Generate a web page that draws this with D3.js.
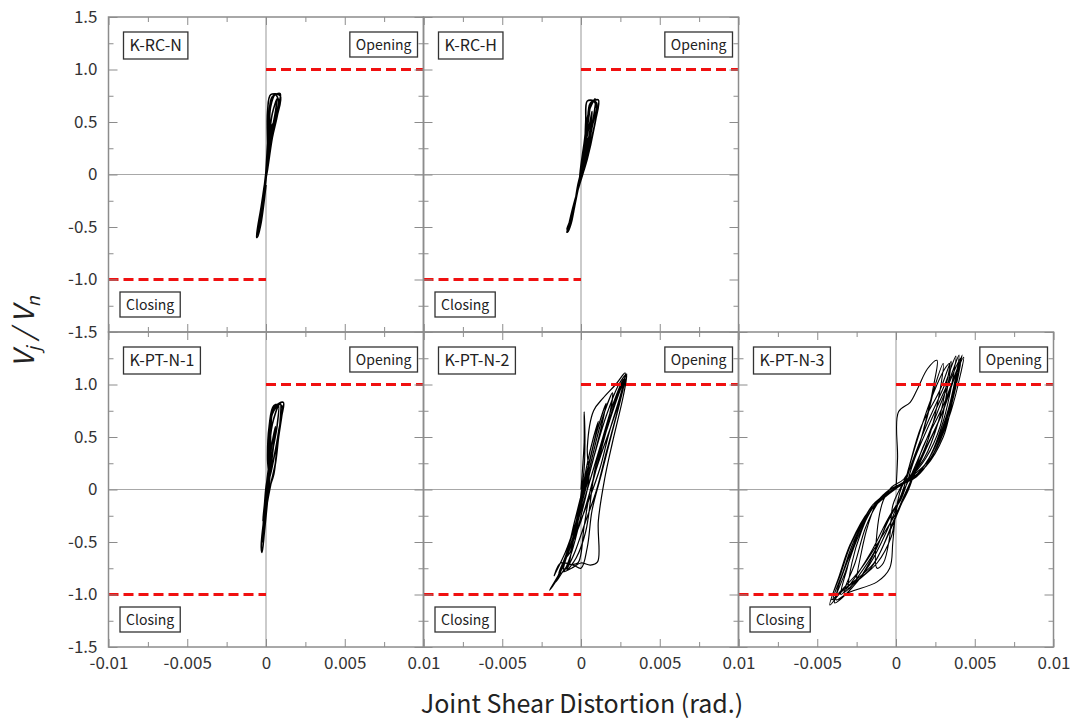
<!DOCTYPE html>
<html>
<head>
<meta charset="utf-8">
<script src="https://cdnjs.cloudflare.com/ajax/libs/d3/7.8.5/d3.min.js"></script>
<style>
body{margin:0;background:#fff;}
text{font-family:"Noto Sans CJK KR","Noto Sans",sans-serif;}
</style>
</head>
<body>
<script>
// specimens, in drawing order
var specimens = ["K-RC-N","K-RC-H","K-PT-N-1","K-PT-N-2","K-PT-N-3"];
var yTicks = [-1.5,-1,-0.5,0,0.5,1,1.5];
var yTickLabels = ["-1.5","-1.0","-0.5","0","0.5","1.0","1.5"];
var xTicks = [-0.01,-0.005,0,0.005,0.01];
var xTickLabels = ["-0.01","-0.005","0","0.005","0.01"];
var limitLevel = 1.0;

// joint shear distortion (rad.) vs Vj/Vn
var kRcN = [[0,0],[0.0001,0.12],[0.0002,0.25],[0.00015,0.15],[0,0],[-0.0001,-0.12],[-0.0002,-0.22],[-0.00015,-0.15],[0,0],
	[0.0002,0.3],[0.0004,0.48],[0.0003,0.38],[0.0001,0.15],[-0.0001,-0.1],[-0.0003,-0.35],[-0.00035,-0.42],[-0.0002,-0.3],[0,-0.02],
	[0.0002,0.35],[0.0004,0.58],[0.0007,0.72],[0.0006,0.6],[0.0003,0.35],[0.0001,0.1],[-0.0002,-0.2],[-0.0004,-0.45],[-0.00055,-0.57],[-0.0004,-0.48],[-0.0001,-0.15],
	[0.0001,0.3],[0.0002,0.6],[0.0004,0.74],[0.0009,0.77],[0.0008,0.66],[0.0005,0.45],[0.0002,0.2],[0,0],[-0.0003,-0.3],[-0.0006,-0.6],[-0.0005,-0.58],[-0.0003,-0.35],[0,-0.05],
	[0.0001,0.2],[0.0001,0.6],[0.0003,0.76],[0.0009,0.75],[0.0007,0.55],[0.0004,0.35],[0.0001,0.05],[-0.0002,-0.2],[-0.0005,-0.55],[-0.00045,-0.5],[-0.0002,-0.25],[0,0],
	[0.0002,0.4],[0.0003,0.65],[0.0006,0.76],[0.0008,0.7],[0.0005,0.5],[0.0002,0.25],[0,0],[-0.0003,-0.35],[-0.0005,-0.58],[-0.0003,-0.45],[0,-0.1]];

var kRcH = [[0,0],[0.0002,0.2],[0.0004,0.35],[0.0003,0.25],[0.0001,0.05],[-0.0002,-0.15],[-0.0004,-0.3],[-0.0003,-0.22],[0,0],
	[0.0003,0.3],[0.0006,0.52],[0.0007,0.6],[0.0006,0.45],[0.0003,0.2],[0,0],[-0.0003,-0.2],[-0.0006,-0.42],[-0.0007,-0.5],[-0.0005,-0.38],[-0.0002,-0.1],
	[0.0002,0.15],[0.0004,0.45],[0.0006,0.68],[0.0011,0.71],[0.0009,0.5],[0.0006,0.3],[0.0002,0.05],[-0.0003,-0.2],[-0.0007,-0.45],[-0.0009,-0.55],[-0.0007,-0.5],[-0.0004,-0.3],[-0.0001,-0.05],
	[0.0002,0.2],[0.0003,0.5],[0.0004,0.7],[0.0008,0.7],[0.001,0.62],[0.0008,0.42],[0.0004,0.15],[0,-0.05],[-0.0004,-0.25],[-0.0008,-0.5],[-0.00085,-0.55],[-0.0006,-0.45],[-0.0003,-0.2],[0,0],
	[0.0003,0.3],[0.0005,0.55],[0.0007,0.7],[0.001,0.68],[0.0007,0.45],[0.0003,0.15],[-0.0001,-0.05],
	[0.0002,0.3],[0.0005,0.6],[0.0009,0.72],[0.0008,0.55],[0.0005,0.35],[0.0002,0.1],[-0.0002,-0.15],[-0.0006,-0.4],[-0.0009,-0.52],[-0.0006,-0.42],[-0.0002,-0.1]];

var kPtN1 = [[0,0],[0.0002,0.15],[0.0003,0.3],[0.0002,0.2],[0,0.02],[-0.0001,-0.15],[-0.0002,-0.3],[-0.0001,-0.2],[0,0],
	[0.0002,0.25],[0.0004,0.45],[0.0006,0.6],[0.0005,0.45],[0.0003,0.2],[0.0001,0],[-0.0001,-0.2],[-0.0002,-0.4],[-0.0002,-0.45],[-0.0001,-0.3],[0.0001,-0.05],
	[0.0002,0.2],[0.0002,0.45],[0.0004,0.72],[0.0009,0.82],[0.0009,0.65],[0.0007,0.4],[0.0005,0.15],[0.0002,0],[-0.0001,-0.25],[-0.0003,-0.55],[-0.00025,-0.6],[-0.0001,-0.4],[0.0001,-0.1],
	[0.0003,0.25],[0.0003,0.55],[0.0005,0.78],[0.0011,0.83],[0.001,0.7],[0.0008,0.5],[0.0006,0.25],[0.0003,0.05],[0,-0.2],[-0.0002,-0.45],[-0.0002,-0.5],[-0.0001,-0.3],[0.0002,0.05],
	[0.0001,0.3],[0.0002,0.6],[0.0005,0.8],[0.001,0.8],[0.0008,0.55],[0.0005,0.3],[0.0002,0.1],
	[0.0002,0.35],[0.0004,0.62],[0.0008,0.8],[0.0007,0.6],[0.0004,0.35],[0.0002,0.1],[0,-0.15],[-0.0002,-0.4],[-0.0001,-0.2],[0.0001,0]];

var kPtN2 = [[0,0],[0.0001,0.2],[0.0002,0.45],[0.0002,0.74],[0.00025,0.5],[0.0002,0.2],[0,-0.05],[-0.0003,-0.3],[-0.0005,-0.45],[-0.0003,-0.4],[-0.0001,-0.2],[0.0001,0],
	[0.0004,0.25],[0.0008,0.5],[0.0011,0.65],[0.0009,0.5],[0.0005,0.25],[0.0001,0],[-0.0004,-0.3],[-0.0008,-0.55],[-0.001,-0.65],[-0.0007,-0.6],[-0.0003,-0.35],[0.0001,-0.05],
	[0.0006,0.3],[0.0011,0.6],[0.0016,0.82],[0.0013,0.6],[0.0008,0.3],[0.0003,0.02],[-0.0003,-0.3],[-0.0009,-0.6],[-0.0012,-0.75],[-0.0009,-0.75],[-0.0005,-0.5],[0,-0.15],
	[0.0007,0.3],[0.0013,0.65],[0.002,0.92],[0.0018,0.7],[0.0012,0.4],[0.0006,0.1],[0,-0.2],[-0.0007,-0.55],[-0.0014,-0.8],[-0.0011,-0.78],[-0.0006,-0.6],[0,-0.25],[0.0005,0.1],
	[0.0004,0.4],[0.0008,0.75],[0.0014,0.87],[0.0022,1.0],[0.0028,1.11],[0.0026,0.95],[0.0018,0.55],[0.0012,0.2],[0.0005,-0.1],[-0.0003,-0.4],[-0.0012,-0.75],[-0.002,-0.96],[-0.0015,-0.85],[-0.0008,-0.6],[0,-0.3],
	[0.0008,0.1],[0.0015,0.5],[0.0022,0.85],[0.0029,1.09],[0.0027,0.9],[0.002,0.45],[0.0015,0.1],[0.0011,-0.3],[0.00105,-0.69],[0.0006,-0.72],[0,-0.7],[-0.0006,-0.75],[-0.0011,-0.78],[-0.0006,-0.5],[0,-0.2],[0.0006,0.1],
	[0.0013,0.45],[0.002,0.8],[0.0027,1.05],[0.0024,0.8],[0.0016,0.35],[0.001,0],[0.0003,-0.3],[-0.0004,-0.6],[-0.0009,-0.77],[-0.0003,-0.65],[0.0003,-0.4],
	[0.0009,0.2],[0.0017,0.6],[0.0025,0.95],[0.0028,1.05],[0.0025,0.85],[0.0019,0.5],[0.0013,0.15],[0.0007,-0.2],[0.0004,-0.55],[0,-0.75],[-0.0005,-0.72],[-0.0013,-0.7],[-0.0017,-0.82],[-0.001,-0.6],[-0.0004,-0.35],[0.0002,-0.05],
	[0.0008,0.3],[0.0016,0.7],[0.0024,1.0],[0.0029,1.1],[0.0026,0.92],[0.0019,0.6],[0.0012,0.3],[0.0006,0.0],[0.0002,-0.35],[-0.0002,-0.7],[-0.0008,-0.72],[-0.0016,-0.88],[-0.0011,-0.7],[-0.0005,-0.45],[0.0001,-0.1]];

var kPtN3 = [[0,0],[0.0001,0.3],[0.00016,0.74],[0.0009,0.83],[0.0014,0.97],[0.002,1.15],[0.0026,1.23],[0.0024,1.0],[0.0018,0.6],[0.0012,0.3],[0.0005,0.1],[-0.0003,0.02],[-0.0008,-0.1],[-0.0012,-0.4],[-0.0012,-0.75],[-0.0008,-0.7],[-0.0004,-0.45],[-0.0002,-0.15],[0.0004,0.05],
	[0.0012,0.3],[0.002,0.7],[0.0025,1.0],[0.003,1.2],[0.0028,0.95],[0.0022,0.55],[0.0014,0.25],[0.0006,0.08],[-0.0004,0.0],[-0.0012,-0.12],[-0.0018,-0.35],[-0.0022,-0.6],[-0.0025,-0.88],[-0.0021,-0.8],[-0.0012,-0.55],[-0.0004,-0.25],[0.0003,-0.08],
	[0.0008,0.2],[0.0016,0.6],[0.0028,0.95],[0.0035,1.22],[0.0033,1.0],[0.0028,0.6],[0.0019,0.3],[0.0008,0.1],[-0.0002,0.0],[-0.0014,-0.15],[-0.0022,-0.4],[-0.0028,-0.7],[-0.003,-0.95],[-0.0025,-0.85],[-0.0014,-0.6],[-0.0005,-0.3],[0.0002,-0.1],
	[0.001,0.25],[0.0019,0.6],[0.0031,1.0],[0.0038,1.27],[0.0036,1.05],[0.003,0.65],[0.0021,0.3],[0.001,0.1],[0,0.02],[-0.0015,-0.15],[-0.0025,-0.45],[-0.0031,-0.75],[-0.0035,-1.0],[-0.0029,-0.9],[-0.0016,-0.6],[-0.0004,-0.25],[0.0003,-0.1],
	[0.0012,0.3],[0.0022,0.65],[0.0034,1.05],[0.004,1.28],[0.0038,1.08],[0.0032,0.7],[0.0023,0.35],[0.0012,0.12],[0.0002,0.03],[-0.0016,-0.2],[-0.0027,-0.5],[-0.0034,-0.8],[-0.004,-1.05],[-0.0033,-0.95],[-0.0014,-0.7],[-0.0003,-0.35],[0.0004,-0.1],
	[0.0016,0.3],[0.0029,0.72],[0.0037,1.07],[0.0042,1.28],[0.0039,1.1],[0.0033,0.72],[0.0024,0.35],[0.0013,0.12],[0.0003,0.04],[-0.0017,-0.2],[-0.0029,-0.52],[-0.0036,-0.82],[-0.0042,-1.1],[-0.0035,-0.98],[-0.0016,-0.75],[-0.0004,-0.4],[0.0004,-0.12],
	[0.0018,0.35],[0.003,0.75],[0.0038,1.1],[0.0043,1.26],[0.0041,1.1],[0.0035,0.75],[0.0026,0.4],[0.0015,0.15],[0.0004,0.05],[-0.0015,-0.18],[-0.0028,-0.5],[-0.0035,-0.8],[-0.0041,-1.05],[-0.0034,-0.95],[-0.0022,-0.75],[-0.0009,-0.45],[0.0001,-0.2],
	[0.0008,0.0],[0.0017,0.4],[0.003,0.8],[0.0039,1.15],[0.0041,1.2],[0.0037,0.95],[0.0031,0.6],[0.0022,0.3],[0.0008,0.1],[-0.0008,-0.05],[-0.002,-0.3],[-0.003,-0.65],[-0.0038,-1.05],[-0.003,-0.98],[-0.0012,-0.88],[-0.0004,-0.75],[-0.0002,-0.5],[0,-0.2],[0.0003,0],
	[0.0006,0.1],[0.0012,0.4],[0.0022,0.85],[0.0031,1.15],[0.0034,1.2],[0.0032,1.0],[0.0027,0.65],[0.0018,0.3],[0.0006,0.08],[-0.001,-0.1],[-0.0019,-0.35],[-0.0026,-0.7],[-0.0033,-0.98],[-0.0027,-0.9],[-0.0012,-0.7],[-0.0003,-0.45],[0.0001,-0.15],
	[0.001,0.15],[0.002,0.5],[0.0032,0.95],[0.0041,1.25],[0.004,1.12],[0.0036,0.85],[0.003,0.5],[0.0019,0.22],[0.0005,0.06],[-0.0012,-0.12],[-0.0024,-0.45],[-0.0032,-0.78],[-0.0039,-1.08],[-0.0032,-1.0],[-0.0017,-0.72],[-0.0006,-0.4],[0.0002,-0.1]];

var loops = [kRcN,kRcH,kPtN1,kPtN2,kPtN3];

var width=1075,height=724;
var left0=108.5,top0=17,pw=315,ph=315;
var cells = [{col:0,row:0,sw:1.6},{col:1,row:0,sw:1.6},{col:0,row:1,sw:1.6},{col:1,row:1,sw:1.2},{col:2,row:1,sw:1.1}];

var svg = d3.select("body")
	.append("svg")
	.attr("width", width)
	.attr("height", height);

var x = d3.scaleLinear().domain([-0.01,0.01]).range([0,pw]);
var y = d3.scaleLinear().domain([-1.5,1.5]).range([ph,0]);

var line = d3.line()
	.x(function(d){return x(d[0]);})
	.y(function(d){return y(d[1]);})
	.curve(d3.curveCatmullRom.alpha(0.5));

var xMinor = [-0.0075,-0.0025,0.0025,0.0075];
var yMinor = [-1.25,-0.75,-0.25,0.25,0.75,1.25];
var frameColor = "#8c8c8c";

function tickAxis(g, axis, tx, ty){
	var a = g.append("g").attr("transform","translate("+tx+","+ty+")").call(axis);
	a.select(".domain").remove();
	a.selectAll("text").remove();
	a.selectAll("line").attr("stroke", frameColor);
}

function labelBox(g, txt, bx, by, size, anchorRight){
	var t = g.append("text")
		.attr("font-size", size)
		.attr("fill", "#222")
		.text(txt);
	var w = t.node().getComputedTextLength();
	var padX = 6, bh = size + 11;
	var x0 = anchorRight ? bx - w - 2*padX : bx;
	g.insert("rect", function(){return t.node();})
		.attr("x", x0).attr("y", by)
		.attr("width", w + 2*padX).attr("height", bh)
		.attr("fill", "#fff").attr("stroke", "#333").attr("stroke-width", 1.3);
	t.attr("x", x0 + padX).attr("y", by + bh/2 + size*0.36);
}

specimens.forEach(function(name, i){
	var c = cells[i];
	var g = svg.append("g")
		.attr("transform", "translate("+(left0+c.col*pw)+","+(top0+c.row*ph)+")");

	// zero lines
	g.append("line").attr("x1",0).attr("x2",pw).attr("y1",y(0)).attr("y2",y(0))
		.attr("stroke","#a8a8a8").attr("stroke-width",1);
	g.append("line").attr("x1",x(0)).attr("x2",x(0)).attr("y1",0).attr("y2",ph)
		.attr("stroke","#a8a8a8").attr("stroke-width",1.2);

	// hysteresis loops
	g.append("path").datum(loops[i])
		.attr("d", line)
		.attr("fill","none")
		.attr("stroke","#000")
		.attr("stroke-width",c.sw)
		.attr("stroke-linejoin","round");

	// joint opening / closing limits
	g.append("line").attr("x1",x(0)).attr("x2",x(0.01)).attr("y1",y(limitLevel)).attr("y2",y(limitLevel))
		.attr("stroke","#f01010").attr("stroke-width",3).attr("stroke-dasharray","10,5");
	g.append("line").attr("x1",x(-0.01)).attr("x2",x(0)).attr("y1",y(-limitLevel)).attr("y2",y(-limitLevel))
		.attr("stroke","#f01010").attr("stroke-width",3).attr("stroke-dasharray","10,5");

	// frame and inward ticks
	g.append("rect").attr("width",pw).attr("height",ph)
		.attr("fill","none").attr("stroke",frameColor).attr("stroke-width",1.5);
	tickAxis(g, d3.axisTop(x).tickValues(xTicks).tickSize(-8), 0, 0);
	tickAxis(g, d3.axisTop(x).tickValues(xMinor).tickSize(-5), 0, 0);
	tickAxis(g, d3.axisBottom(x).tickValues(xTicks).tickSize(-8), 0, ph);
	tickAxis(g, d3.axisBottom(x).tickValues(xMinor).tickSize(-5), 0, ph);
	tickAxis(g, d3.axisLeft(y).tickValues(yTicks).tickSize(-9), 0, 0);
	tickAxis(g, d3.axisLeft(y).tickValues(yMinor).tickSize(-5), 0, 0);
	tickAxis(g, d3.axisRight(y).tickValues(yTicks).tickSize(-9), pw, 0);
	tickAxis(g, d3.axisRight(y).tickValues(yMinor).tickSize(-5), pw, 0);

	// tick labels on outer edges
	if(c.col == 0){
		var yv = c.row == 0 ? yTicks : yTicks.slice(0, 6);
		var ya = g.append("g").call(d3.axisLeft(y).tickValues(yv).tickSize(0).tickPadding(11)
			.tickFormat(function(d){return yTickLabels[yTicks.indexOf(d)];}));
		ya.select(".domain").remove();
		ya.selectAll("text").attr("font-size",17).attr("fill","#333");
	}
	if(c.row == 1){
		var xv = c.col == 0 ? xTicks : xTicks.slice(1);
		var xa = g.append("g").attr("transform","translate(0,"+ph+")")
			.call(d3.axisBottom(x).tickValues(xv).tickSize(0).tickPadding(10)
			.tickFormat(function(d){return xTickLabels[xTicks.indexOf(d)];}));
		xa.select(".domain").remove();
		xa.selectAll("text").attr("font-size",17).attr("fill","#333");
	}

	// labels
	labelBox(g, name, 15, 15, 16, false);
	labelBox(g, "Opening", pw - 6, 15, 14, true);
	labelBox(g, "Closing", 11.5, ph - 40, 14, false);
});

// axis titles
svg.append("text")
	.attr("x", 582).attr("y", 713)
	.attr("text-anchor","middle")
	.attr("font-size",25)
	.attr("fill","#222")
	.text("Joint Shear Distortion (rad.)");

var yt = svg.append("text")
	.attr("transform","translate(34,"+(top0+ph)+") rotate(-90)")
	.attr("text-anchor","middle")
	.attr("font-size",28)
	.attr("font-style","italic")
	.attr("fill","#222");
yt.append("tspan").text("V");
yt.append("tspan").attr("font-size",18).attr("dy",6).text("j");
yt.append("tspan").attr("dy",-6).text(" / V");
yt.append("tspan").attr("font-size",18).attr("dy",6).text("n");
</script>
</body>
</html>
